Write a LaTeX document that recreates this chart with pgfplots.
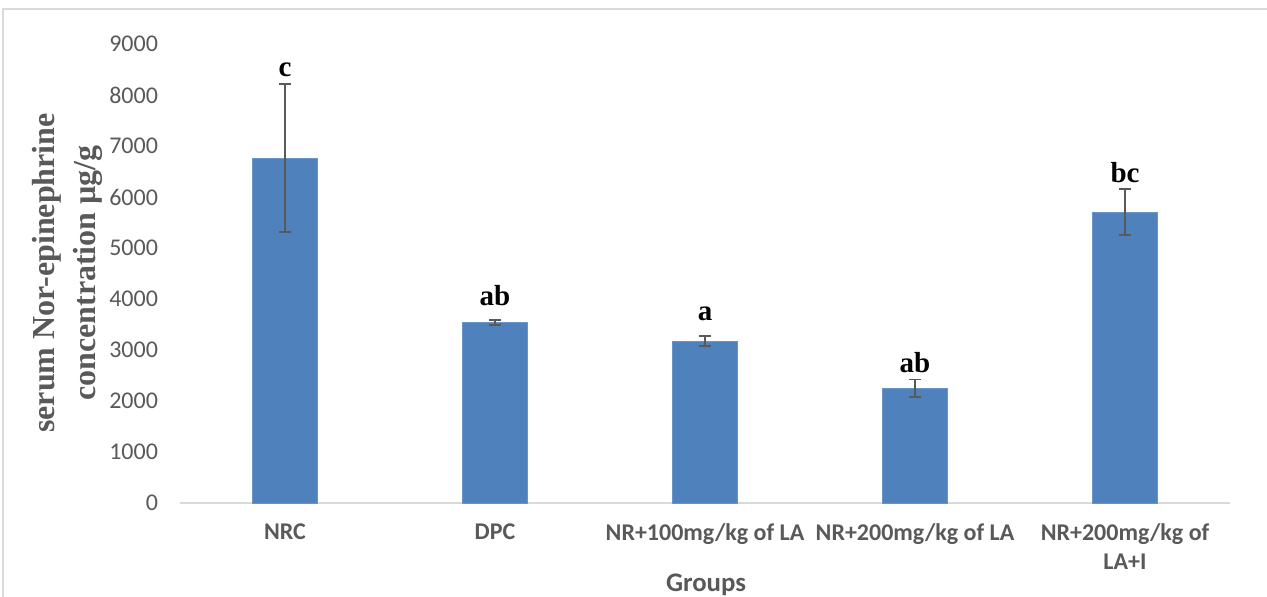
\documentclass[border=0pt]{standalone}
\usepackage{pgfplots}
\pgfplotsset{compat=1.18}
\usepackage{fontspec}
\setmainfont{Carlito}
\newfontfamily\timesfont{Liberation Serif}
\definecolor{barblue}{HTML}{4F81BD}
\definecolor{errgray}{HTML}{595959}
\definecolor{txtgray}{HTML}{595959}
\definecolor{linegray}{HTML}{D9D9D9}
\begin{document}
\begin{tikzpicture}
\useasboundingbox (0,0) rectangle (633.5pt,298.5pt);
\draw[linegray, line width=0.6pt] (1.5pt,0) -- (1.5pt,294pt) -- (633.5pt,294pt);
\begin{axis}[
  at={(90pt,47pt)}, anchor=south west,
  scale only axis, width=525pt, height=229.5pt,
  xmin=-0.5, xmax=4.5, ymin=0, ymax=9000,
  ybar, bar width=32.5pt,
  ytick={0,1000,...,9000},
  xtick={0,1,2,3,4},
  xticklabels={NRC,DPC,NR+100mg/kg of LA,NR+200mg/kg of LA,{NR+200mg/kg of\\LA+I}},
  scaled y ticks=false,
  /pgf/number format/fixed,
  /pgf/number format/1000 sep={},
  /pgf/number format/assume math mode=true,
  yticklabel style={font=\fontsize{12}{14}\selectfont, text=txtgray, xshift=-7.5pt},
  xticklabel style={font=\fontsize{12}{14.5}\selectfont\bfseries, text=txtgray, align=center, anchor=north, yshift=-7pt},
  major tick length=0pt,
  axis x line*=bottom, axis y line*=left,
  x axis line style={linegray, line width=0.6pt, -},
  y axis line style={draw=none},
  clip=false,
]
\addplot[fill=barblue, draw=barblue!85!white, line width=0.4pt,
  error bars/.cd, y dir=both, y explicit,
  error bar style={line width=0.9pt, errgray},
  error mark options={rotate=90, mark size=3pt, line width=0.9pt, errgray}]
coordinates {
  (0,6760) +- (0,1450)
  (1,3540) +- (0,50)
  (2,3175) +- (0,100)
  (3,2250) +- (0,170)
  (4,5705) +- (0,450)
};
\node[font=\timesfont\bfseries\fontsize{14.5}{16}\selectfont, anchor=base] at (axis cs:0,8353) {c};
\node[font=\timesfont\bfseries\fontsize{14.5}{16}\selectfont, anchor=base] at (axis cs:1,3882) {ab};
\node[font=\timesfont\bfseries\fontsize{14.5}{16}\selectfont, anchor=base] at (axis cs:2,3569) {a};
\node[font=\timesfont\bfseries\fontsize{14.5}{16}\selectfont, anchor=base] at (axis cs:3,2549) {ab};
\node[font=\timesfont\bfseries\fontsize{14.5}{16}\selectfont, anchor=base] at (axis cs:4,6275) {bc};
\end{axis}
\node[rotate=90, align=center, font=\timesfont\bfseries\fontsize{16}{20.5}\selectfont, text=txtgray] at (33.5pt,162pt) {serum Nor-epinephrine\\concentration µg/g};
\node[font=\fontsize{13.4}{16}\selectfont\bfseries, text=txtgray] at (353pt,6pt) {Groups};
\end{tikzpicture}
\end{document}
